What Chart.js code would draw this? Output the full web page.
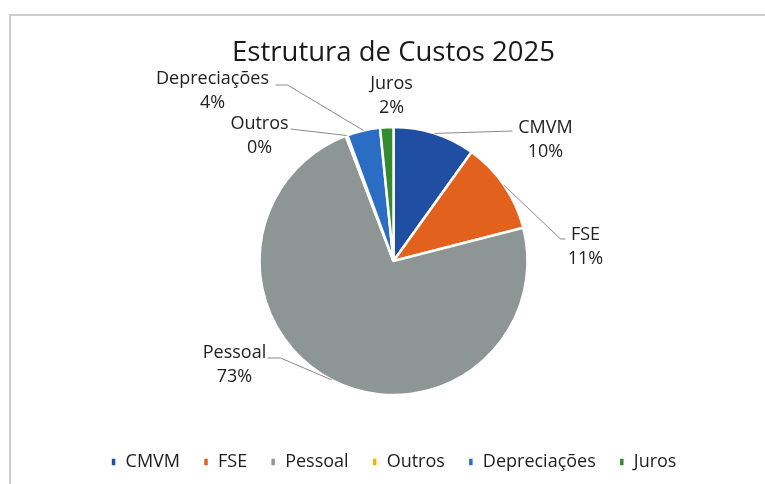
<!DOCTYPE html>
<html>
<head>
<meta charset="utf-8">
<script src="https://cdn.jsdelivr.net/npm/chart.js@4.4.1/dist/chart.umd.min.js"></script>
<style>
  html, body { margin: 0; padding: 0; background: #fff; overflow: hidden; width: 765px; height: 484px; }
  #frame {
    position: absolute; left: 9px; top: 14px; width: 765px; height: 474px;
    border-left: 2px solid #cfcfcf; border-top: 2px solid #cfcfcf;
  }
</style>
</head>
<body>
<div id="frame"><canvas id="cost-chart"></canvas></div>
<script>
const categories = ['CMVM', 'FSE', 'Pessoal', 'Outros', 'Depreciações', 'Juros'];
const shares = [9.9, 11.1, 73.2, 0.2, 4.0, 1.6];
const sliceColors = ['#1f4ea2', '#e2621d', '#8e9595', '#f0b400', '#2b6dc2', '#35892f'];

// label placement relative to pie centre (px): label centre, then leader line points
const labelSpots = [
  { at: [152, -121], line: [[119, -130]] },
  { at: [192, -14], line: [[167, -22], [172, -22]] },
  { at: [-159, 104], line: [[-113, 97], [-126, 97]] },
  { at: [-134, -125], line: [[-103, -132]] },
  { at: [-181, -170], line: [[-106, -176], [-118, -176]] },
  { at: [-2, -165], line: [] }
];

Chart.defaults.font.family = "'Open Sans', sans-serif";

const outsideLabels = {
  id: 'outsideLabels',
  afterDatasetsDraw(chart) {
    const ctx = chart.ctx;
    const meta = chart.getDatasetMeta(0);
    const vals = chart.data.datasets[0].data;
    const total = vals.reduce((a, b) => a + b, 0);
    meta.data.forEach((arc, i) => {
      const p = arc.getProps(['x', 'y', 'startAngle', 'endAngle', 'outerRadius'], true);
      const mid = (p.startAngle + p.endAngle) / 2;
      const spot = labelSpots[i];
      ctx.save();
      if (spot.line.length) {
        ctx.strokeStyle = '#8a8a8a';
        ctx.lineWidth = 1;
        ctx.beginPath();
        ctx.moveTo(p.x + Math.cos(mid) * p.outerRadius, p.y + Math.sin(mid) * p.outerRadius);
        spot.line.forEach(pt => ctx.lineTo(p.x + pt[0], p.y + pt[1]));
        ctx.stroke();
      }
      ctx.fillStyle = '#222';
      ctx.font = "18px 'Open Sans', sans-serif";
      ctx.textAlign = 'center';
      ctx.textBaseline = 'middle';
      const cx = p.x + spot.at[0], cy = p.y + spot.at[1];
      ctx.fillText(chart.data.labels[i], cx, cy - 12);
      ctx.fillText(Math.round(vals[i] / total * 100) + '%', cx, cy + 12);
      ctx.restore();
    });
  }
};

const config = {
  type: 'pie',
  data: {
    labels: categories,
    datasets: [{
      data: shares,
      backgroundColor: sliceColors,
      borderColor: '#ffffff',
      borderWidth: 2.5,
      radius: 134
    }]
  },
  options: {
    responsive: true,
    maintainAspectRatio: false,
    animation: false,
    layout: { padding: { top: 0, bottom: 9 } },
    plugins: {
      title: {
        display: true,
        text: 'Estrutura de Custos 2025',
        color: '#1a1a1a',
        font: { size: 27.5, weight: 'normal' },
        padding: { top: 21, bottom: 22 }
      },
      legend: {
        position: 'bottom',
        labels: {
          color: '#1e1e1e',
          font: { size: 18 },
          boxWidth: 6,
          boxHeight: 9,
          padding: 23
        }
      },
      tooltip: { enabled: false }
    }
  },
  plugins: [outsideLabels]
};

let obj = document.getElementById('cost-chart');
let costChart = new Chart(obj, config);
</script>
</body>
</html>
